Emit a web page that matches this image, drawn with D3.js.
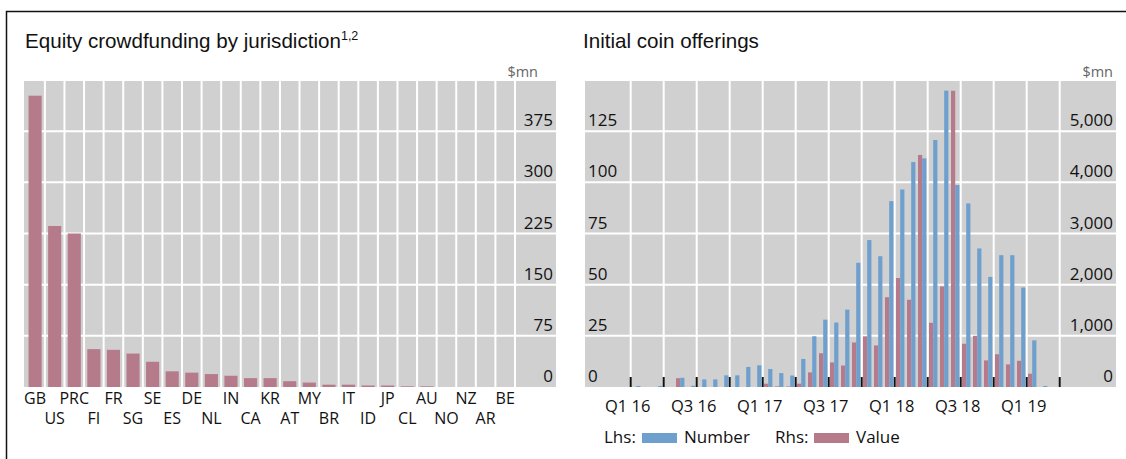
<!DOCTYPE html>
<html><head><meta charset="utf-8">
<script src="https://cdn.jsdelivr.net/npm/d3@7"></script>
<style>
body{margin:0;background:#fff;}
svg{display:block;}
text{font-family:"Open Sans","Noto Sans",sans-serif;}
</style></head><body>
<svg id="c" width="1126" height="459"></svg>
<script>
// ---------- data ----------
const categories = ["GB","US","PRC","FI","FR","SG","SE","ES","DE","NL","IN","CA","KR","AT","MY","BR","IT","ID","JP","CL","AU","NO","NZ","AR","BE"];
const crowdfunding = [427,236,225,55.5,54.5,49,37,23,21,19,16.5,13,13,8.5,6.5,3.4,3.4,2.2,2.2,1,1,0,0,0,0];
const crowdTicks = [0,75,150,225,300,375];

const months = ["2016-01","2016-02","2016-03","2016-04","2016-05","2016-06","2016-07","2016-08","2016-09","2016-10","2016-11","2016-12",
"2017-01","2017-02","2017-03","2017-04","2017-05","2017-06","2017-07","2017-08","2017-09","2017-10","2017-11","2017-12",
"2018-01","2018-02","2018-03","2018-04","2018-05","2018-06","2018-07","2018-08","2018-09","2018-10","2018-11","2018-12",
"2019-01","2019-02","2019-03"];
const icoNumber = [0.5,0,0.5,0,4.5,0.6,3.7,3.7,5.7,5.7,9.8,10.6,
8.8,6.8,5.6,13.7,24.8,32.9,31.5,37.8,60.7,71.8,63.9,90.8,
96.5,109.9,111.7,120.7,144.8,98.7,89.7,67.7,53.8,64.4,64.4,48.6,
22.8,0.5,0];
const icoValue = [0,0,0,0,172,0,0,0,0,0,0,0,
65,12,10,65,285,660,480,420,870,990,812,1755,
2130,1705,4535,1255,1965,5790,845,1000,520,640,442,512,
260,0,0];
const lhsTicks = [0,25,50,75,100,125];
const rhsTicks = [0,1000,2000,3000,4000,5000];
const quarterLabels = ["Q1 16","Q3 16","Q1 17","Q3 17","Q1 18","Q3 18","Q1 19"];

// ---------- styles ----------
const GRAY = "#d0d0d0", RED = "#b67b8b", BLUE = "#6f9fcd", TXT = "#111";
const svg = d3.select("#c");

svg.append("path").attr("d","M6.5,459V11.5H1126").attr("fill","none").attr("stroke","#111").attr("stroke-width",1.5);

const plotTop = 81, plotBottom = 387;

// ================= LEFT PANEL =================
{
  const x0 = 24, x1 = 556;
  const band = d3.scaleBand().domain(categories).range([25.3,515]).padding(0);
  const xb = d3.scaleBand().domain(categories).range([25.3,515]).paddingInner(0.33).paddingOuter(0.165);
  const y = d3.scaleLinear().domain([0,450]).range([plotBottom,80]);

  const g = svg.append("g");
  g.append("text").attr("x",25).attr("y",48).attr("font-size",20.6).attr("fill",TXT)
    .style("font-family","'Liberation Sans',Arial,sans-serif")
    .text("Equity crowdfunding by jurisdiction")
    .append("tspan").attr("font-size",12.5).attr("dy",-8).text("1,2");
  g.append("text").attr("x",538).attr("y",77).attr("text-anchor","end").attr("font-size",14.5).attr("fill","#666").text("$mn");

  g.append("rect").attr("x",x0).attr("y",plotTop).attr("width",x1-x0).attr("height",plotBottom-plotTop).attr("fill",GRAY);
  g.selectAll("line.h").data(crowdTicks.filter(d=>d>0)).join("line")
    .attr("x1",x0).attr("x2",x1).attr("y1",d=>y(d)).attr("y2",d=>y(d)).attr("stroke","#fff").attr("stroke-width",2);
  const vb = categories.slice(1).map(c=>band(c)).concat([band.range()[1]]);
  g.selectAll("line.v").data(vb).join("line")
    .attr("x1",d=>d).attr("x2",d=>d).attr("y1",plotTop).attr("y2",plotBottom).attr("stroke","#fff").attr("stroke-width",2);
  g.selectAll("rect.bar").data(categories).join("rect")
    .attr("x",d=>xb(d)).attr("width",xb.bandwidth())
    .attr("y",(d,i)=>y(crowdfunding[i])).attr("height",(d,i)=>y(0)-y(crowdfunding[i]))
    .attr("fill",RED);
  g.selectAll("text.tk").data(crowdTicks).join("text")
    .attr("x",x1-3).attr("y",d=>y(d)-5).attr("text-anchor","end").attr("font-size",17).attr("fill",TXT)
    .text(d=>d3.format(",")(d));
  g.selectAll("text.cat").data(categories).join("text")
    .attr("x",d=>band(d)+band.bandwidth()/2).attr("y",(d,i)=> i%2===0 ? 404 : 424)
    .attr("text-anchor","middle").attr("font-size",16).attr("fill",TXT).text(d=>d);
}

// ================= RIGHT PANEL =================
{
  const x0 = 585, x1 = 1116;
  const xm = d3.scaleBand().domain(months).range([630.7,1059.7]).padding(0);
  const sub = d3.scaleBand().domain(["value","number"]).range([0,xm.bandwidth()]).paddingInner(0).paddingOuter(0.31);
  const yN = d3.scaleLinear().domain([0,150]).range([plotBottom,80]);
  const yV = d3.scaleLinear().domain([0,6000]).range([plotBottom,80]);

  const g = svg.append("g");
  g.append("text").attr("x",583).attr("y",48).attr("font-size",20.6).attr("fill",TXT)
    .style("font-family","'Liberation Sans',Arial,sans-serif").text("Initial coin offerings");
  g.append("text").attr("x",x1-3).attr("y",77).attr("text-anchor","end").attr("font-size",14.5).attr("fill","#666").text("$mn");

  g.append("rect").attr("x",x0).attr("y",plotTop).attr("width",x1-x0).attr("height",plotBottom-plotTop).attr("fill",GRAY);
  g.selectAll("line.h").data(lhsTicks.filter(d=>d>0)).join("line")
    .attr("x1",x0).attr("x2",x1).attr("y1",d=>yN(d)).attr("y2",d=>yN(d)).attr("stroke","#fff").attr("stroke-width",2);
  const qStarts = months.filter((m,i)=>i%3===0).map(m=>xm(m)).concat([xm.range()[1]]);
  g.selectAll("line.v").data(qStarts).join("line")
    .attr("x1",d=>d).attr("x2",d=>d).attr("y1",plotTop).attr("y2",plotBottom).attr("stroke","#fff").attr("stroke-width",2);
  g.selectAll("line.tick").data(qStarts).join("line")
    .attr("x1",d=>d).attr("x2",d=>d).attr("y1",plotBottom).attr("y2",plotBottom-10).attr("stroke","#111").attr("stroke-width",2);
  g.selectAll("rect.v").data(months).join("rect")
    .attr("x",d=>xm(d)+sub("value")).attr("width",sub.bandwidth())
    .attr("y",(d,i)=>yV(icoValue[i])).attr("height",(d,i)=>yV(0)-yV(icoValue[i])).attr("fill",RED);
  g.selectAll("rect.n").data(months).join("rect")
    .attr("x",d=>xm(d)+sub("number")).attr("width",sub.bandwidth())
    .attr("y",(d,i)=>yN(icoNumber[i])).attr("height",(d,i)=>yN(0)-yN(icoNumber[i])).attr("fill",BLUE);
  g.selectAll("text.l").data(lhsTicks).join("text")
    .attr("x",588).attr("y",d=>yN(d)-5).attr("font-size",17).attr("fill",TXT).text(d=>d);
  g.selectAll("text.r").data(rhsTicks).join("text")
    .attr("x",x1-3).attr("y",d=>yV(d)-5).attr("text-anchor","end").attr("font-size",17).attr("fill",TXT)
    .text(d=>d3.format(",")(d));
  g.selectAll("text.q").data(quarterLabels).join("text")
    .attr("x",d=>{const q=+d[1], yr=2000+ +d.slice(3); return xm(months[(yr-2016)*12+(q-1)*3]) - 3;})
    .attr("y",412).attr("text-anchor","middle").attr("font-size",16.5).attr("fill",TXT).text(d=>d);
  const lg = g.append("g");
  lg.append("text").attr("x",604).attr("y",443).attr("font-size",17).attr("fill",TXT).text("Lhs:");
  lg.append("rect").attr("x",642).attr("y",433).attr("width",35).attr("height",10).attr("fill",BLUE);
  lg.append("text").attr("x",684).attr("y",443).attr("font-size",17).attr("fill",TXT).text("Number");
  lg.append("text").attr("x",775).attr("y",443).attr("font-size",17).attr("fill",TXT).text("Rhs:");
  lg.append("rect").attr("x",814).attr("y",433).attr("width",35).attr("height",10).attr("fill",RED);
  lg.append("text").attr("x",856).attr("y",443).attr("font-size",17).attr("fill",TXT).text("Value");
}
</script>
</body></html>
